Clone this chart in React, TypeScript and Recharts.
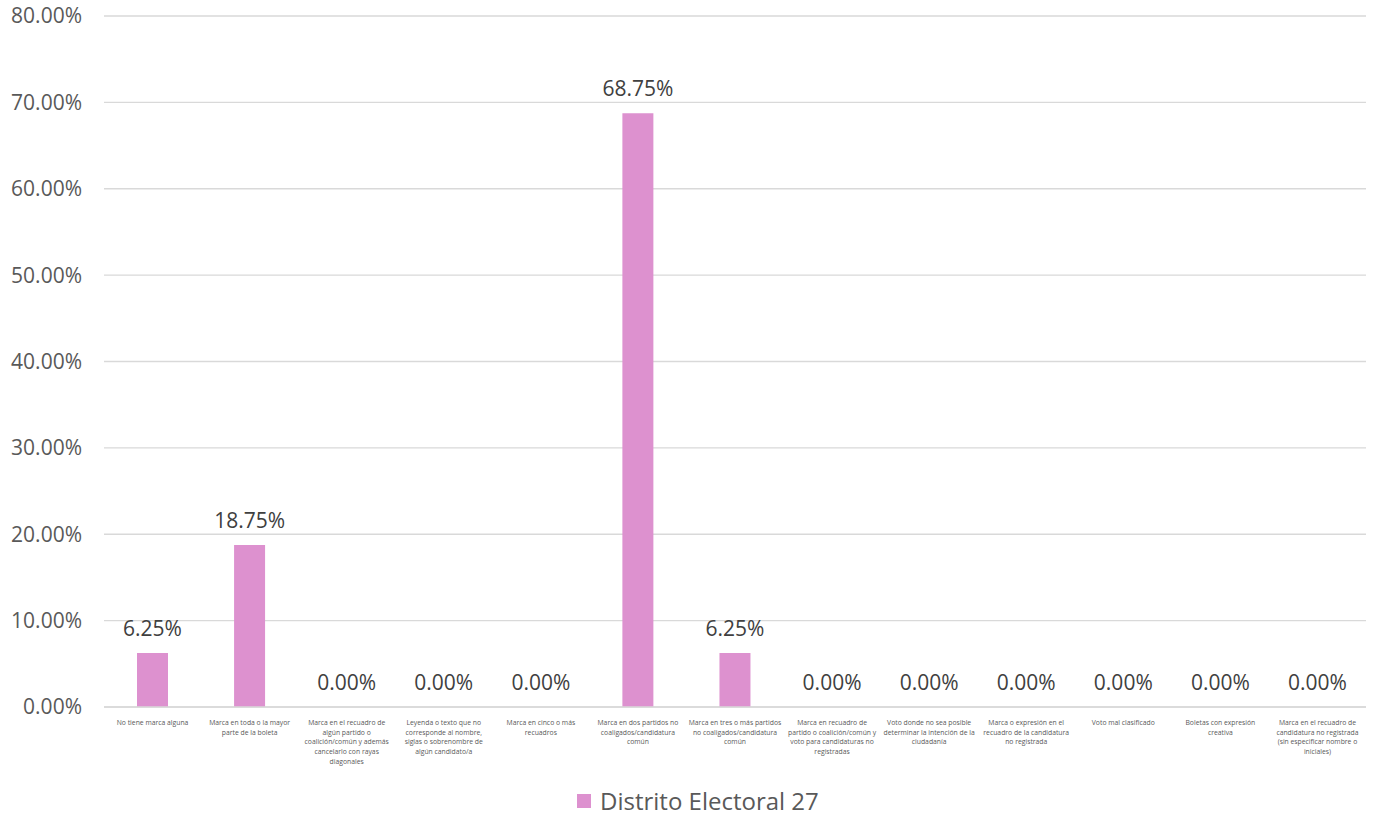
import React from "react";
import { ComposedChart, Bar, Line, XAxis, YAxis, CartesianGrid, LabelList, Legend } from "recharts";

const categories: string[] = [
  "No tiene marca alguna",
  "Marca en toda o la mayor\nparte de la boleta",
  "Marca en el recuadro de\nalgún partido o\ncoalición/común y además\ncancelarlo con rayas\ndiagonales",
  "Leyenda o texto que no\ncorresponde al nombre,\nsiglas o sobrenombre de\nalgún candidato/a",
  "Marca en cinco o más\nrecuadros",
  "Marca en dos partidos no\ncoaligados/candidatura\ncomún",
  "Marca en tres o más partidos\nno coaligados/candidatura\ncomún",
  "Marca en recuadro de\npartido o coalición/común y\nvoto para candidaturas no\nregistradas",
  "Voto donde no sea posible\ndeterminar la intención de la\nciudadanía",
  "Marca o expresión en el\nrecuadro de la candidatura\nno registrada",
  "Voto mal clasificado",
  "Boletas con expresión\ncreativa",
  "Marca en el recuadro de\ncandidatura no registrada\n(sin especificar nombre o\niniciales)",
];

const values: number[] = [0.0625, 0.1875, 0, 0, 0, 0.6875, 0.0625, 0, 0, 0, 0, 0, 0];

const yTicks: number[] = [0, 0.1, 0.2, 0.3, 0.4, 0.5, 0.6, 0.7, 0.8];

const seriesName = "Distrito Electoral 27";

const data = categories.map((c, i) => ({ category: c, value: values[i] }));

const FONT = "'Open Sans', sans-serif";
const pct = (v: number) => (v * 100).toFixed(2) + "%";

const XTick = (props: any) => {
  const { x, y, payload } = props;
  const lines: string[] = String(payload.value).split("\n");
  return (
    <text x={x} y={y} textAnchor="middle" fill="#595959" fontSize={6.8} fontFamily={FONT}>
      {lines.map((l, i) => (
        <tspan key={i} x={x} dy={i === 0 ? 10 : 9.7}>
          {l}
        </tspan>
      ))}
    </text>
  );
};

const LegendContent = () => (
  <div
    style={{
      display: "flex",
      alignItems: "center",
      fontFamily: FONT,
      fontSize: 24,
      lineHeight: "28px",
      height: 28,
      color: "#595959",
      whiteSpace: "nowrap",
    }}
  >
    <span style={{ display: "inline-block", width: 14, height: 14, background: "#dd91cf", marginRight: 9 }} />
    <span>{seriesName}</span>
  </div>
);

export default function App() {
  return (
    <div style={{ position: "absolute", left: 0, top: 0, width: 1377, height: 815, background: "#fff" }}>
      <ComposedChart
        width={1377}
        height={815}
        data={data}
        margin={{ top: 16, right: 11, left: 0, bottom: 0 }}
        barCategoryGap={0}
      >
        <CartesianGrid vertical={false} stroke="#d9d9d9" strokeWidth={1.3} />
        <XAxis
          dataKey="category"
          interval={0}
          tickLine={false}
          axisLine={{ stroke: "#d9d9d9", strokeWidth: 1.3 }}
          tick={<XTick />}
          height={80}
        />
        <YAxis
          domain={[0, 0.8]}
          ticks={yTicks}
          tickFormatter={pct}
          axisLine={false}
          tickLine={false}
          tickSize={0}
          tickMargin={22}
          width={104}
          tick={{ fill: "#595959", fontSize: 21, fontFamily: FONT }}
          interval={0}
        />
        <Legend
          verticalAlign="bottom"
          height={28}
          content={<LegendContent />}
          wrapperStyle={{ left: 577, top: 787, width: 400, height: 28 }}
        />
        <Bar dataKey="value" name={seriesName} fill="#dd91cf" barSize={31} isAnimationActive={false} />
        <Line
          dataKey="value"
          stroke="none"
          dot={false}
          activeDot={false}
          legendType="none"
          isAnimationActive={false}
        >
          <LabelList
            dataKey="value"
            position="top"
            offset={17}
            formatter={(v: any) => pct(Number(v))}
            style={{ fill: "#404040", fontSize: 21, fontFamily: FONT }}
          />
        </Line>
      </ComposedChart>
    </div>
  );
}
